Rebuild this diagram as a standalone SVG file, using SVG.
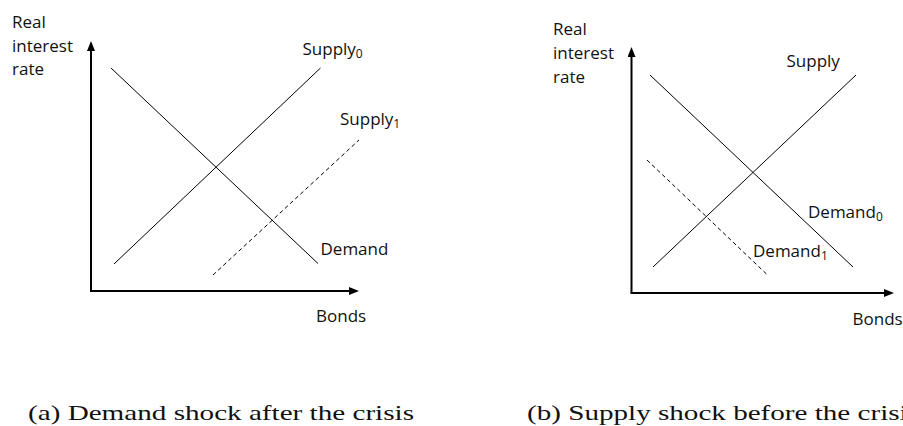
<svg xmlns="http://www.w3.org/2000/svg" width="903" height="426" viewBox="0 0 903 426">
<style>
.lbl{font-family:"Open Sans","Noto Sans","Liberation Sans",sans-serif;font-size:17px;fill:#111}
.sub{font-size:12px}
.cap{font-family:"Liberation Serif","DejaVu Serif",serif;font-size:22px;fill:#111}
.curve{stroke:#000;stroke-width:1;fill:none}
.dash{stroke:#000;stroke-width:1;fill:none;stroke-dasharray:4 3}
.axis{stroke:#000;stroke-width:2;fill:none}
</style>
<defs>
<marker id="ah" viewBox="0 0 10 8" markerWidth="10" markerHeight="8" markerUnits="userSpaceOnUse" refX="5" refY="4" orient="auto">
<path d="M0,0 L10,4 L0,8 z" fill="#000"/>
</marker>
</defs>
<rect width="903" height="426" fill="#fff"/>

<g id="chart-a">
<g id="a-axes">
<path class="axis" d="M91,291 L91,46" marker-end="url(#ah)"/>
<path class="axis" d="M90,291 L354,291" marker-end="url(#ah)"/>
</g>
<g id="a-ylabel"><text class="lbl" x="12" y="28">Real</text><text class="lbl" x="12" y="51.5">interest</text><text class="lbl" x="12" y="75">rate</text></g>
<g id="a-xlabel"><text class="lbl" x="316" y="321.5">Bonds</text></g>
<g id="a-connectors">
<line class="curve" x1="111" y1="68" x2="318" y2="263.5"/>
<line class="curve" x1="114" y1="264" x2="320.5" y2="68"/>
<line class="dash" x1="213" y1="275" x2="359" y2="140"/>
</g>
<g id="a-supply0"><text class="lbl" x="302.5" y="55">Supply<tspan class="sub" dy="3">0</tspan></text></g>
<g id="a-supply1"><text class="lbl" x="340" y="125">Supply<tspan class="sub" dy="3">1</tspan></text></g>
<g id="a-demand"><text class="lbl" x="320.5" y="255">Demand</text></g>
</g>

<g id="chart-b">
<g id="b-axes">
<path class="axis" d="M631.5,293 L631.5,52" marker-end="url(#ah)"/>
<path class="axis" d="M630.5,293 L889,293" marker-end="url(#ah)"/>
</g>
<g id="b-ylabel"><text class="lbl" x="553" y="35">Real</text><text class="lbl" x="553" y="59">interest</text><text class="lbl" x="553" y="83">rate</text></g>
<g id="b-xlabel"><text class="lbl" x="852.5" y="325">Bonds</text></g>
<g id="b-connectors">
<line class="curve" x1="650" y1="75" x2="853" y2="267"/>
<line class="curve" x1="653" y1="267" x2="856" y2="75"/>
<line class="dash" x1="647" y1="160" x2="767.5" y2="275"/>
</g>
<g id="b-supply"><text class="lbl" x="786.5" y="67">Supply</text></g>
<g id="b-demand0"><text class="lbl" x="808" y="218">Demand<tspan class="sub" dy="3">0</tspan></text></g>
<g id="b-demand1"><text class="lbl" x="753" y="257">Demand<tspan class="sub" dy="3">1</tspan></text></g>
</g>

<g id="captions">
<text class="cap" x="28" y="420" textLength="386" lengthAdjust="spacingAndGlyphs">(a) Demand shock after the crisis</text>
<text class="cap" x="527" y="420" textLength="392" lengthAdjust="spacingAndGlyphs">(b) Supply shock before the crisis</text>
</g>
</svg>
